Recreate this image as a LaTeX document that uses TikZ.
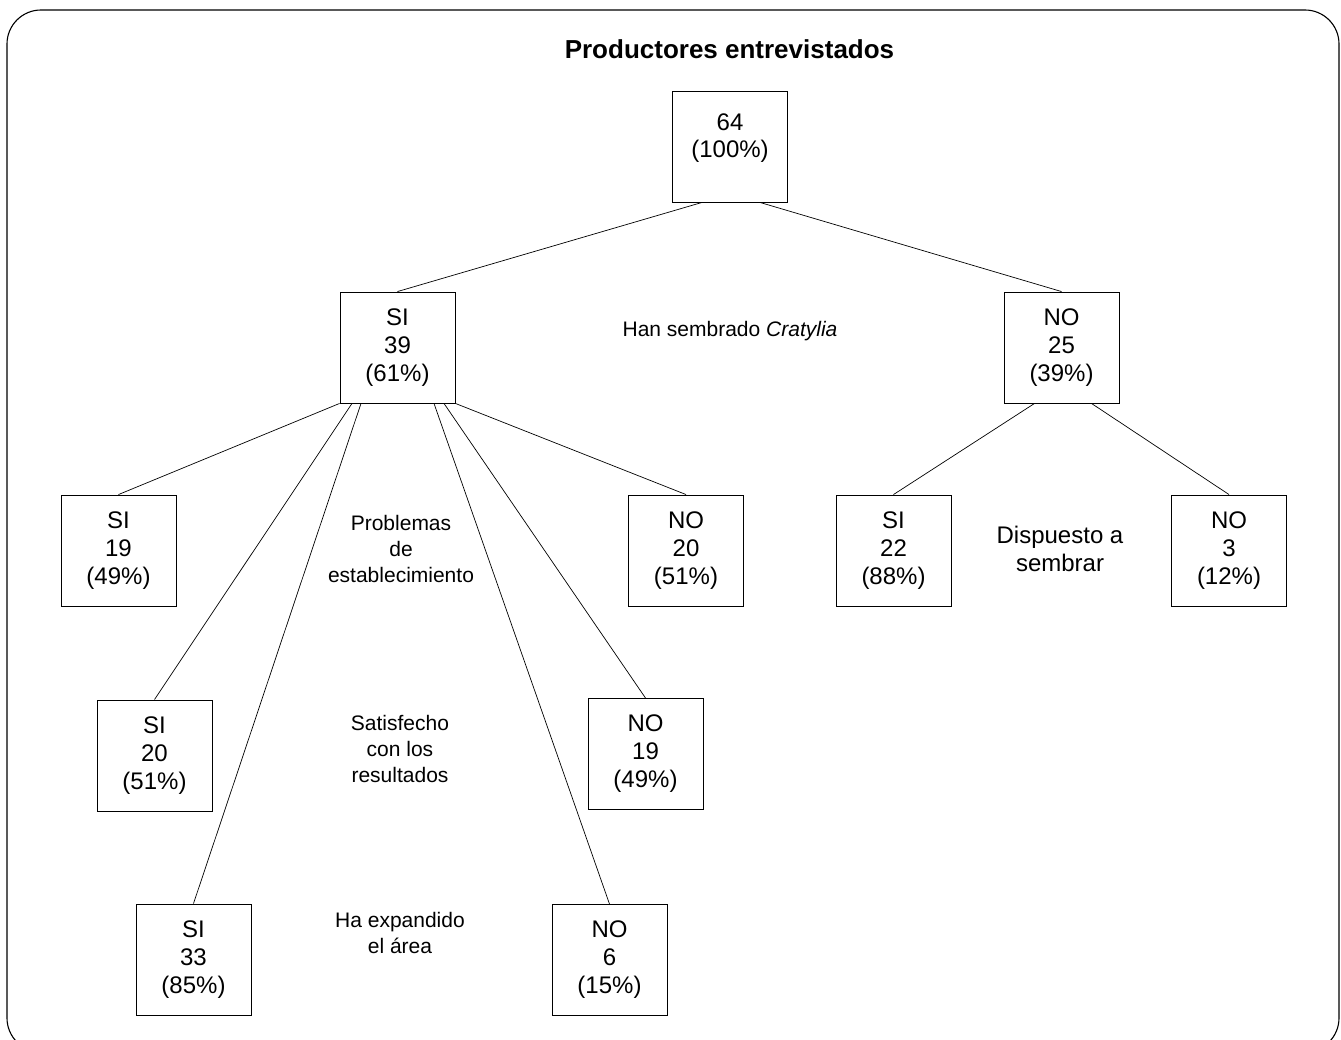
\documentclass[tikz,border=0pt]{standalone}
\usepackage{fontspec}
\setmainfont{Liberation Sans}
\begin{document}
\begin{tikzpicture}[x=1pt,y=-1pt,
  box/.style={draw, line width=0.9pt, minimum width=115pt, minimum height=111pt, inner sep=0pt, align=center, font=\fontsize{24}{28}\selectfont},
  lbl/.style={align=center, inner sep=0pt, font=\fontsize{21}{26}\selectfont},
  biglbl/.style={align=center, inner sep=0pt, font=\fontsize{24}{28}\selectfont},
  edge/.style={line width=0.7pt}]
\useasboundingbox (0,0) rectangle (1341,1040);
\draw[line width=1.1pt, rounded corners=34pt] (7,10) rectangle (1339,1052);

\node[inner sep=0pt, font=\fontsize{26}{30}\selectfont\bfseries] (title) at (729.5,49) {Productores entrevistados};

\node[box] (top) at (730,146.5) {};
\node[inner sep=0pt, align=center, font=\fontsize{24}{27.5}\selectfont] (toptxt) at (730,138) {64\\(100\%)};

\node[box] (si39) at (397.5,347.5) {SI\\39\\(61\%)};
\node[box] (no25) at (1061.5,347.5) {NO\\25\\(39\%)};
\node[box] (si19) at (118.5,550.5) {SI\\19\\(49\%)};
\node[box] (no20) at (686,550.5) {NO\\20\\(51\%)};
\node[box] (si22) at (893.5,550.5) {SI\\22\\(88\%)};
\node[box] (no3) at (1229,550.5) {NO\\3\\(12\%)};
\node[box] (si20) at (154.5,755.5) {SI\\20\\(51\%)};
\node[box] (no19) at (645.5,754) {NO\\19\\(49\%)};
\node[box] (si33) at (193.5,959.5) {SI\\33\\(85\%)};
\node[box] (no6) at (609.5,960) {NO\\6\\(15\%)};

\node[lbl] (l1) at (730,331) {Han sembrado \textit{Cratylia}};
\node[lbl] (l2) at (401,549) {Problemas\\de\\establecimiento};
\node[lbl] (l3) at (400,749) {Satisfecho\\con los\\resultados};
\node[lbl] (l4) at (400,933) {Ha expandido\\el área};
\node[biglbl] (l5) at (1060,549) {Dispuesto a\\sembrar};

\draw[edge] ([xshift=-28pt]top.south) -- (si39.north);
\draw[edge] ([xshift=30pt]top.south) -- (no25.north);

\draw[edge] (si39.south west) -- (si19.north);
\draw[edge] ([xshift=-45.5pt]si39.south) -- (si20.north);
\draw[edge] ([xshift=-36.5pt]si39.south) -- (si33.north);
\draw[edge] ([xshift=36.5pt]si39.south) -- (no6.north);
\draw[edge] ([xshift=46.5pt]si39.south) -- (no19.north);
\draw[edge] (si39.south east) -- (no20.north);

\draw[edge] ([xshift=-27pt]no25.south) -- (si22.north);
\draw[edge] ([xshift=30pt]no25.south) -- (no3.north);
\end{tikzpicture}
\end{document}
